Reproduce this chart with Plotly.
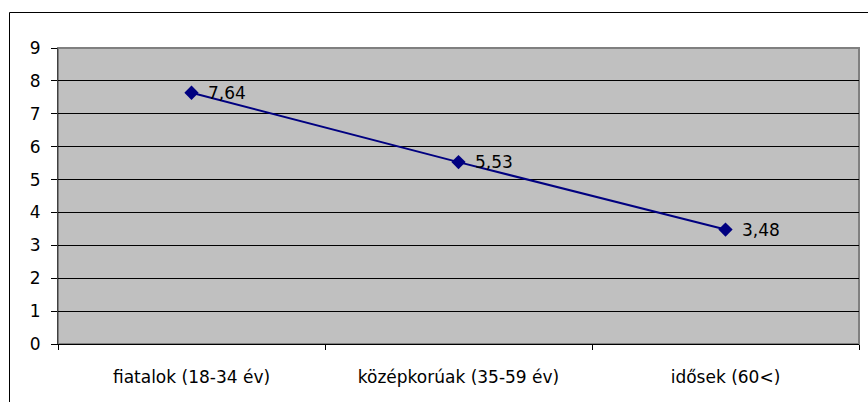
import plotly.graph_objects as go

categories = ["fiatalok (18-34 év)", "középkorúak (35-59 év)", "idősek (60<)"]
values = [7.64, 5.53, 3.48]
labels = [f"{v:.2f}".replace(".", ",") for v in values]

W, H = 868, 402
L, R, T, B = 58, 9, 48, 58
pw, ph = W - L - R, H - T - B
FONT = "DejaVu Sans, Arial"
FS = 17

def px_x(x):
    return (x - L) / pw

def px_y(y):
    return (H - B - y) / ph

fig = go.Figure()
fig.add_trace(go.Scatter(
    x=categories, y=values, mode="lines+markers",
    line=dict(color="#000080", width=2),
    marker=dict(symbol="diamond", size=11, color="#000080"),
    cliponaxis=False, hoverinfo="skip",
))

annotations = [
    dict(x=c, y=v, xref="x", yref="y", text=t, showarrow=False,
         xanchor="left", yanchor="middle", xshift=14, yshift=0,
         font=dict(family=FONT, size=FS, color="black"))
    for c, v, t in zip(categories, values, labels)
]

fig.update_layout(
    width=W, height=H,
    margin=dict(l=L, r=R, t=T, b=B, autoexpand=False),
    paper_bgcolor="white", plot_bgcolor="#C0C0C0",
    showlegend=False,
    font=dict(family=FONT, size=FS, color="black"),
    annotations=annotations,
    xaxis=dict(
        type="category", tickson="boundaries", ticks="outside", ticklen=5,
        tickcolor="black", showgrid=False, showline=True, linecolor="black",
        linewidth=1, range=[-0.5, 2.5], ticklabelstandoff=18,
        automargin=False,
    ),
    yaxis=dict(
        range=[0, 9], dtick=1, ticks="outside", ticklen=6, tickcolor="black",
        showgrid=True, gridcolor="black", gridwidth=1, zeroline=False,
        showline=True, linecolor="#404040", linewidth=1,
        ticklabelstandoff=7, automargin=False,
    ),
    shapes=[
        dict(type="rect", xref="paper", yref="paper",
             x0=0, x1=1, y0=0, y1=1, line=dict(color="#808080", width=2),
             fillcolor="rgba(0,0,0,0)", layer="below"),
        dict(type="rect", xref="paper", yref="paper",
             x0=px_x(9.5), x1=px_x(875), y0=px_y(410), y1=px_y(12.5),
             line=dict(color="black", width=1), fillcolor="rgba(0,0,0,0)"),
    ],
)

fig.write_html("out.html", config={"displayModeBar": False},
               post_script="document.body.style.margin='0';document.body.style.overflow='hidden';")
